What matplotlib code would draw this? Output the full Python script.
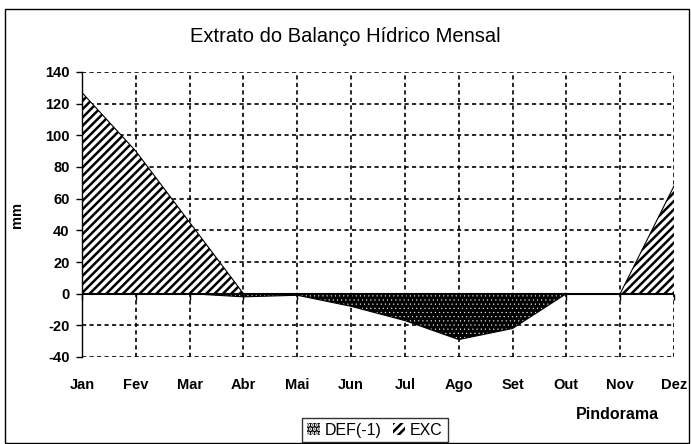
import numpy as np
import matplotlib
matplotlib.use("Agg")
import matplotlib.pyplot as plt
from matplotlib.patches import Rectangle, Patch

plt.rcParams['font.family'] = ['Liberation Sans', 'DejaVu Sans']

# dados (mm)
meses = ["Jan", "Fev", "Mar", "Abr", "Mai", "Jun", "Jul", "Ago", "Set", "Out", "Nov", "Dez"]
exc = [127, 90, 45, 0, 0, 0, 0, 0, 0, 0, 0, 68]
deficit = [0, 0, 0, -2, -1, -8, -17, -29, -22, 0, 0, 0]
yticks = [-40, -20, 0, 20, 40, 60, 80, 100, 120, 140]

W, H = 691, 444
fig = plt.figure(figsize=(W / 100, H / 100), dpi=100)
ax = fig.add_axes([82 / W, 1 - 357 / H, 592 / W, 285 / H])

x = np.arange(len(meses))

# DEF: preto com pontinhos brancos
plt.rcParams['hatch.linewidth'] = 0.3
ax.fill_between(x, deficit, 0, facecolor='black', edgecolor='white',
                hatch='....', linewidth=0, zorder=2)
h_def = Patch(facecolor='black', edgecolor='white', hatch='....', linewidth=0)
ax.plot(x, deficit, color='black', lw=0.8, zorder=3)

# EXC: hachura diagonal
plt.rcParams['hatch.linewidth'] = 1.8
ax.fill_between(x, exc, 0, facecolor='white', edgecolor='black',
                hatch='////', linewidth=0, zorder=2)
h_exc = Patch(facecolor='white', edgecolor='black', hatch='////', linewidth=0)
ax.plot(x, exc, color='black', lw=0.8, zorder=3)

ax.axhline(0, color='black', lw=1.5, zorder=4)
ax.plot(x, np.zeros(len(x)), ls='none', marker=3, ms=4, mew=1,
        color='black', zorder=4, clip_on=False)

ax.set_xlim(0, 11)
ax.set_ylim(-40, 140)
ax.set_xticks(x)
ax.set_xticklabels(meses, fontweight='bold', fontsize=10.5)
ax.set_yticks(yticks)
ax.set_yticklabels([str(v) for v in yticks], fontweight='bold', fontsize=10.5)
ax.tick_params(axis='x', length=0, pad=15)
ax.tick_params(axis='y', direction='out', length=4, width=1, pad=5)

ax.grid(True, color='black', linestyle=(0, (2.5, 2)), linewidth=1.2, zorder=1)
ax.set_axisbelow(True)
for s in ['top', 'right', 'bottom']:
    ax.spines[s].set_visible(False)
ax.spines['left'].set_linewidth(1)

ax.set_ylabel("mm", fontweight='bold', fontsize=10.5)
ax.yaxis.set_label_coords(-58 / 592, 0.5)

fig.text(0.5, 1 - 36 / H, "Extrato do Balanço Hídrico Mensal",
         ha='center', va='center', fontsize=14.5)
fig.text(617 / W, 1 - 414 / H, "Pindorama", ha='center', va='center',
         fontsize=11.5, fontweight='bold')

leg = fig.legend([h_def, h_exc], ["DEF(-1)", "EXC"], loc='center',
                 bbox_to_anchor=(375 / W, 1 - 430 / H), ncol=2,
                 fontsize=11.5, frameon=True, fancybox=False,
                 handlelength=0.8, handleheight=0.8, handletextpad=0.3,
                 columnspacing=0.7, borderpad=0.3)
leg.get_frame().set_edgecolor('black')
leg.get_frame().set_linewidth(1)

fig.patches.append(Rectangle((5 / W, 1 / H), 684 / W, 434 / H,
                             transform=fig.transFigure, fill=False,
                             edgecolor='black', linewidth=1))

fig.savefig("out.png", dpi=100)
